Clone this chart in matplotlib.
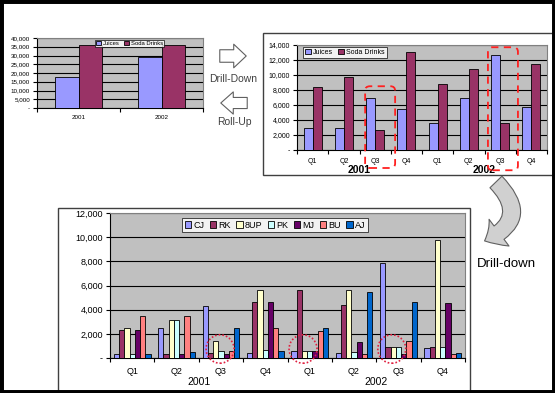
import numpy as np
import matplotlib
matplotlib.use('Agg')
import matplotlib.pyplot as plt
from matplotlib.patches import Rectangle, Ellipse, FancyArrowPatch, FancyBboxPatch
from matplotlib.ticker import FuncFormatter, MultipleLocator

plt.rcParams['font.family'] = ['Liberation Sans', 'DejaVu Sans']

W, H = 555, 393

years = ['2001', '2002']
quarters = ['Q1', 'Q2', 'Q3', 'Q4']

# yearly totals (top left)
year_juices = [18000, 29200]
year_soda = [36100, 36100]

# per quarter (top right)
q_juices = [2900, 3000, 6900, 5500, 3600, 6900, 12700, 5700]
q_soda = [8400, 9700, 2700, 13000, 8800, 10800, 3600, 11500]

# per product per quarter (bottom)
products = ['CJ', 'RK', '8UP', 'PK', 'MJ', 'BU', 'AJ']
cj = [300, 2450, 4300, 400, 550, 400, 7900, 800]
rk = [2350, 300, 400, 4600, 5650, 4400, 900, 900]
up8 = [2450, 3150, 1400, 5650, 550, 5650, 900, 9800]
pk = [300, 3150, 550, 650, 550, 530, 900, 900]
mj = [2350, 300, 330, 4650, 550, 1330, 300, 4550]
bu = [3450, 3450, 550, 2450, 2200, 300, 1400, 300]
aj = [300, 500, 2500, 580, 2500, 5500, 4650, 400]

prod_colors = ['#9999FF', '#993366', '#FFFFCC', '#CCFFFF', '#660066', '#FF8080', '#0066CC']
juice_color, soda_color = '#9999FF', '#993366'
plot_bg = '#C0C0C0'


def box(x0, y0, x1, y1):
    # pixel box (top-left origin) -> figure fraction
    return [x0 / W, 1 - y1 / H, (x1 - x0) / W, (y1 - y0) / H]


def thousands(v, p):
    return '-' if v == 0 else f'{int(v):,}'


def style_axes(ax, ymax, step, fs):
    ax.set_facecolor(plot_bg)
    ax.set_ylim(0, ymax)
    ax.yaxis.set_major_locator(MultipleLocator(step))
    ax.yaxis.set_major_formatter(FuncFormatter(thousands))
    ax.grid(axis='y', color='black', linewidth=0.8)
    ax.set_axisbelow(True)
    ax.tick_params(axis='y', direction='out', length=3, width=0.8, labelsize=fs, pad=2)
    ax.tick_params(axis='x', direction='out', length=3, width=0.8, labelbottom=False)
    for s in ['top', 'right']:
        ax.spines[s].set_color('#808080')
        ax.spines[s].set_linewidth(0.8)
    for s in ['left', 'bottom']:
        ax.spines[s].set_linewidth(0.8)


def grouped(ax, series, colors, labels, width):
    n = len(series)
    x = np.arange(len(series[0]))
    for i, (vals, c, lab) in enumerate(zip(series, colors, labels)):
        ax.bar(x + (i - (n - 1) / 2) * width, vals, width, color=c,
               edgecolor='black', linewidth=0.6, label=lab, zorder=3)
    ax.set_xlim(-0.5, len(x) - 0.5)
    ax.set_xticks(np.arange(-0.5, len(x), 1))


fig = plt.figure(figsize=(W / 100, H / 100), dpi=100)

# overlay in pixel coordinates for panels and arrows
ov = fig.add_axes([0, 0, 1, 1], zorder=0)
ov.set_xlim(0, W)
ov.set_ylim(H, 0)
ov.axis('off')
ov.add_patch(Rectangle((263, 33), 290, 142, fc='white', ec='#404040', lw=1))
ov.add_patch(Rectangle((58, 208), 412, 184, fc='white', ec='#404040', lw=1))
ov.add_patch(Rectangle((0, 0), W, H, fill=False, ec='black', lw=5, clip_on=False))

# arrows between top charts
ov.add_patch(FancyArrowPatch((217, 56), (249, 56),
                             arrowstyle='simple,head_length=9,head_width=17,tail_width=9',
                             fc='white', ec='#606060', lw=0.8))
ov.add_patch(FancyArrowPatch((250, 103), (218, 103),
                             arrowstyle='simple,head_length=9,head_width=16,tail_width=8',
                             fc='white', ec='#606060', lw=0.8))
ov.text(233, 79, 'Drill-Down', ha='center', va='center', fontsize=7.5, color='#404040')
ov.text(234, 122, 'Roll-Up', ha='center', va='center', fontsize=7.5, color='#404040')

# curved drill-down arrow
ov.add_patch(FancyArrowPatch((494, 180), (482, 242), connectionstyle='arc3,rad=-0.75',
                             arrowstyle='simple,head_length=12,head_width=24,tail_width=12',
                             fc='#D0D0D0', ec='#606060', lw=0.8))
ov.text(506, 264, 'Drill-down', ha='center', va='center', fontsize=9.5, color='black')

# top left: yearly totals
ax1 = fig.add_axes(box(37, 38, 203, 108), zorder=1)
grouped(ax1, [year_juices, year_soda], [juice_color, soda_color],
        ['Juices', 'Soda Drinks'], 0.28)
style_axes(ax1, 40000, 5000, 4.5)
for i, y in enumerate(years):
    ax1.text(i, -0.13, y, transform=ax1.get_xaxis_transform(), ha='center', va='center', fontsize=4.5)
ax1.legend(loc='upper left', bbox_to_anchor=(95 / W, 1 - 40 / H), bbox_transform=fig.transFigure,
           ncol=2, fontsize=4.2, frameon=True, fancybox=False, edgecolor='black',
           handlelength=0.8, handleheight=0.7, handletextpad=0.3, columnspacing=0.8,
           borderpad=0.2, borderaxespad=0).get_frame().set_linewidth(0.6)

# top right: per quarter
ax2 = fig.add_axes(box(297, 45, 547, 150), zorder=1)
grouped(ax2, [q_juices, q_soda], [juice_color, soda_color], ['Juices', 'Soda Drinks'], 0.286)
style_axes(ax2, 14000, 2000, 5)
xt = ax2.get_xaxis_transform()
for i in range(8):
    ax2.text(i, -0.11, quarters[i % 4], transform=xt, ha='center', va='center', fontsize=5)
for j, y in enumerate(years):
    ax2.text(1.5 + 4 * j, -0.19, y, transform=xt, ha='center', va='center', fontsize=7.5, fontweight='bold')
ax2.legend(loc='upper left', bbox_to_anchor=(303 / W, 1 - 47 / H), bbox_transform=fig.transFigure,
           ncol=2, fontsize=5, frameon=True, fancybox=False, edgecolor='black',
           handlelength=0.8, handleheight=0.7, handletextpad=0.3, columnspacing=0.8,
           borderpad=0.3, borderaxespad=0).get_frame().set_linewidth(0.6)
# red dashed boxes around the Q3 groups
ax2.add_patch(FancyBboxPatch((1.68, -2400), 0.96, 10900, boxstyle='round,pad=0,rounding_size=0.15',
                             mutation_aspect=4000, fill=False, ec='#FF2020', lw=1.3,
                             ls=(0, (4, 3)), clip_on=False, zorder=5))
ax2.add_patch(FancyBboxPatch((5.61, -2700), 0.96, 16400, boxstyle='round,pad=0,rounding_size=0.15',
                             mutation_aspect=4000, fill=False, ec='#FF2020', lw=1.3,
                             ls=(0, (4, 3)), clip_on=False, zorder=5))

# bottom: per product
ax3 = fig.add_axes(box(110, 213, 465, 358), zorder=1)
grouped(ax3, [cj, rk, up8, pk, mj, bu, aj], prod_colors, products, 0.118)
style_axes(ax3, 12000, 2000, 6.5)
xt3 = ax3.get_xaxis_transform()
for i in range(8):
    ax3.text(i, -0.09, quarters[i % 4], transform=xt3, ha='center', va='center', fontsize=6.5)
for j, y in enumerate(years):
    ax3.text(1.5 + 4 * j, -0.165, y, transform=xt3, ha='center', va='center', fontsize=7.5)
ax3.legend(loc='upper left', bbox_to_anchor=(182 / W, 1 - 218 / H), bbox_transform=fig.transFigure,
           ncol=7, fontsize=6.5, frameon=True, fancybox=False, edgecolor='black',
           handlelength=0.7, handleheight=0.7, handletextpad=0.25, columnspacing=0.6,
           borderpad=0.3, borderaxespad=0).get_frame().set_linewidth(0.6)
for xc in [1.98, 3.85, 5.85]:
    ax3.add_patch(Ellipse((xc, 745), 0.63, 2350, fill=False, ec='#E02040', lw=1.2,
                          ls=(0, (1, 1.2)), clip_on=False, zorder=5))

fig.savefig('out.png', dpi=100)
